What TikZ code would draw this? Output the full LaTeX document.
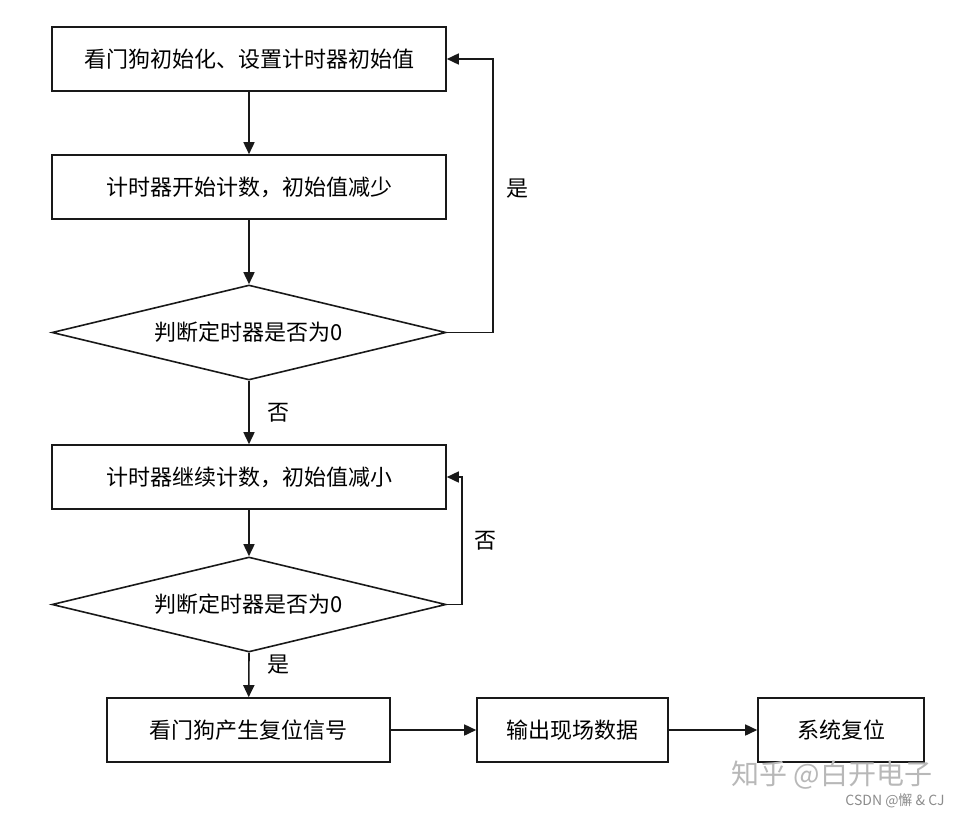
\documentclass[tikz,border=0pt]{standalone}
\usepackage{fontspec}
\setmainfont{Noto Sans CJK SC}
\usetikzlibrary{shapes.geometric,arrows.meta,positioning}
\begin{document}
\begin{tikzpicture}[x=1pt,y=-1pt,
                    line width=1.6pt,
                    >={Triangle[length=12pt,width=11pt]},
                    font=\fontsize{22}{26}\selectfont]
    \tikzstyle{process}=[rectangle,draw=black!90,minimum width=394pt,minimum height=64pt,inner sep=0pt]
    \tikzstyle{output}=[process, minimum width=191pt];
    \tikzstyle{decision}=[diamond,draw=black!90,minimum width=394pt,minimum height=95pt,aspect=4.15,inner sep=0pt];
    \tikzstyle{flow}=[draw=black!90,->];
    \tikzstyle{answer}=[inner sep=1pt];
    \tikzstyle{watermark}=[text=black!28];

    \useasboundingbox (0,0) rectangle (960,816);

    % main column
    \node[process] (init) at (249,59) {看门狗初始化、设置计时器初始值};
    \node[process] (count) at (249,187) {计时器开始计数，初始值减少};
    \node[decision] (check1) at (249,332.5) {判断定时器是否为0};
    \node[process] (recount) at (249,477) {计时器继续计数，初始值减小};
    \node[decision] (check2) at (249,604.5) {判断定时器是否为0};

    % bottom row
    \node[output, minimum width=283pt] (signal) at (248.5,730) {看门狗产生复位信号};
    \node[output] (dump) at (572.5,730) {输出现场数据};
    \node[output, minimum width=166pt] (reset) at (841,730) {系统复位};

    \draw[flow] (init) -- (count);
    \draw[flow] (count) -- (check1.north);
    \draw[flow] (check1.south) -- (recount);
    \draw[flow] (recount) -- (check2.north);
    \draw[flow] (check2.south) -- (signal);
    \draw[flow] (signal) -- (dump);
    \draw[flow] (dump) -- (reset);

    % loops back
    \draw[flow] (check1.east) -- ++(46,0) |- (init.east);
    \draw[flow] (check2.east) -- ++(15,0) |- (recount.east);

    \node[answer] (yes1) at (517,189) {是};
    \node[answer] (no1) at (278,413) {否};
    \node[answer] (no2) at (485,541) {否};
    \node[answer] (yes2) at (278,665) {是};

    % watermarks
    \node[watermark, font=\fontsize{28}{30}\selectfont] (zhihu) at (832,775) {知乎 @白开电子};
    \node[watermark, text=black!45, font=\fontsize{14}{16}\selectfont] (csdn) at (895,801) {CSDN @懈 \& CJ};
\end{tikzpicture}
\end{document}
